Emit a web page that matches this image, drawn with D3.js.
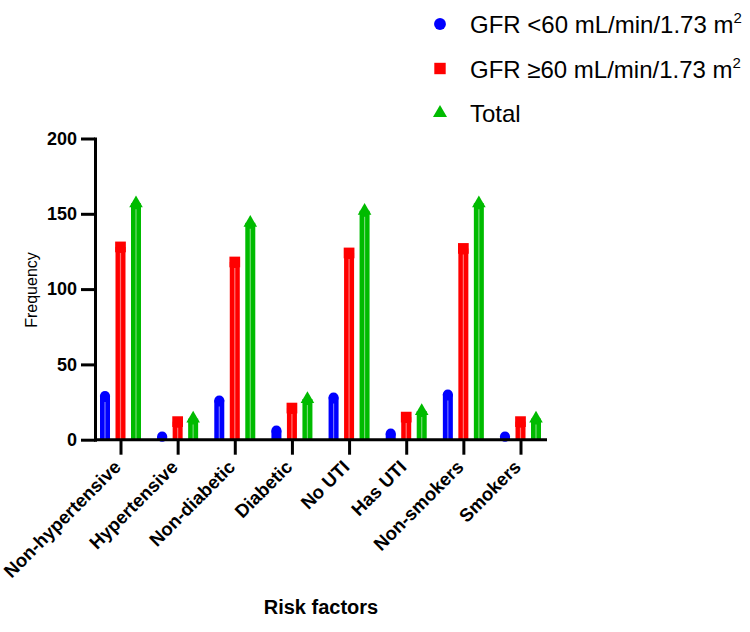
<!DOCTYPE html>
<html>
<head>
<meta charset="utf-8">
<script src="https://cdn.jsdelivr.net/npm/d3@7"></script>
<style>
  body { margin: 0; background: #fff; }
  svg { display: block; font-family: "Liberation Sans", Arial, sans-serif; }
</style>
</head>
<body>
<svg id="chart" width="750" height="632"></svg>
<script>
const categories = ["Non-hypertensive", "Hypertensive", "Non-diabetic", "Diabetic", "No UTI", "Has UTI", "Non-smokers", "Smokers"];
const gfrLow = [29, 2, 26, 6, 28, 4, 30, 2];
const gfrHigh = [128, 12, 118, 21, 124, 15, 127, 12];
const totals = [157, 14, 144, 27, 152, 19, 157, 14];
const yTicks = [0, 50, 100, 150, 200];
const seriesNames = ["GFR <60 mL/min/1.73 m", "GFR \u226560 mL/min/1.73 m", "Total"];
const seriesColors = ["#0000ff", "#ff0000", "#00bb00"];
const seriesSup = ["2", "2", ""];

const svg = d3.select("#chart");
const x = d3.scalePoint().domain(categories).range([120.5, 520.5]);
const y = d3.scaleLinear().domain([0, 200]).range([439.7, 138.5]);
const offsets = d3.scalePoint().domain([0, 1, 2]).range([-15.5, 15.5]);
const axisX0 = 95, axisX1 = 547;

const series = [gfrLow, gfrHigh, totals];
const barW = 10;

// bars
series.forEach((vals, si) => {
  const g = svg.append("g");
  vals.forEach((v, i) => {
    const cx = x(categories[i]) + offsets(si);
    g.append("rect")
      .attr("x", cx - barW / 2).attr("width", barW)
      .attr("y", y(v)).attr("height", y(0) - y(v))
      .attr("fill", seriesColors[si]);
    if (y(0) - y(v) > 12) {
      g.append("line")
        .attr("x1", cx).attr("x2", cx)
        .attr("y1", y(v) + 6).attr("y2", y(0))
        .attr("stroke", "#fff").attr("stroke-opacity", 0.45).attr("stroke-width", 1.2);
    }
  });
});

// markers
const symbolTypes = [d3.symbolCircle, d3.symbolSquare, d3.symbolTriangle];
const symbolSizes = [82, 115, 80];
series.forEach((vals, si) => {
  svg.append("g").selectAll("path").data(vals).join("path")
    .attr("transform", (v, i) => `translate(${x(categories[i]) + offsets(si)},${y(v)})`)
    .attr("d", d3.symbol().type(symbolTypes[si]).size(symbolSizes[si]))
    .attr("fill", seriesColors[si]);
});

// y axis
const yAxis = svg.append("g")
  .attr("transform", `translate(${axisX0},0)`)
  .call(d3.axisLeft(y).tickValues(yTicks).tickSize(14).tickSizeOuter(0).tickPadding(4));
yAxis.select(".domain").attr("stroke", "#000").attr("stroke-width", 3).attr("stroke-linecap", "square");
yAxis.selectAll(".tick line").attr("stroke", "#000").attr("stroke-width", 3);
yAxis.selectAll(".tick text")
  .attr("font-family", "Liberation Sans, Arial, sans-serif")
  .attr("font-size", 18).attr("font-weight", "bold").attr("fill", "#000");

// x axis
const xAxis = svg.append("g")
  .attr("transform", `translate(0,${y(0)})`)
  .call(d3.axisBottom(x).tickSize(15).tickSizeOuter(0));
xAxis.select(".domain").remove();
xAxis.append("line")
  .attr("x1", axisX0).attr("x2", axisX1).attr("y1", 0).attr("y2", 0)
  .attr("stroke", "#000").attr("stroke-width", 3);
xAxis.selectAll(".tick line").attr("stroke", "#000").attr("stroke-width", 3);
xAxis.selectAll(".tick text")
  .attr("font-family", "Liberation Sans, Arial, sans-serif")
  .attr("font-size", 18.5).attr("font-weight", "bold").attr("fill", "#000")
  .attr("text-anchor", "end")
  .attr("y", 0).attr("dy", 0)
  .attr("transform", "translate(1,28.5) rotate(-45)");

// axis titles
svg.append("text")
  .attr("transform", "translate(37,290) rotate(-90)")
  .attr("text-anchor", "middle")
  .attr("font-size", 16).attr("fill", "#000")
  .text("Frequency");
svg.append("text")
  .attr("x", 321).attr("y", 614)
  .attr("text-anchor", "middle")
  .attr("font-size", 20).attr("font-weight", "bold").attr("fill", "#000")
  .text("Risk factors");

// legend
const legendY = d3.scalePoint().domain([0, 1, 2]).range([24, 113]);
const legend = svg.append("g");
seriesNames.forEach((name, si) => {
  const ly = legendY(si);
  legend.append("path")
    .attr("transform", `translate(440,${ly})`)
    .attr("d", d3.symbol().type(symbolTypes[si]).size([110, 130, 85][si]))
    .attr("fill", seriesColors[si]);
  const t = legend.append("text")
    .attr("x", 470).attr("y", ly + 9)
    .attr("font-size", 24).attr("fill", "#000");
  t.append("tspan").text(name);
  if (seriesSup[si]) {
    t.append("tspan").attr("font-size", 15).attr("dy", -10).text(seriesSup[si]);
  }
});
</script>
</body>
</html>
